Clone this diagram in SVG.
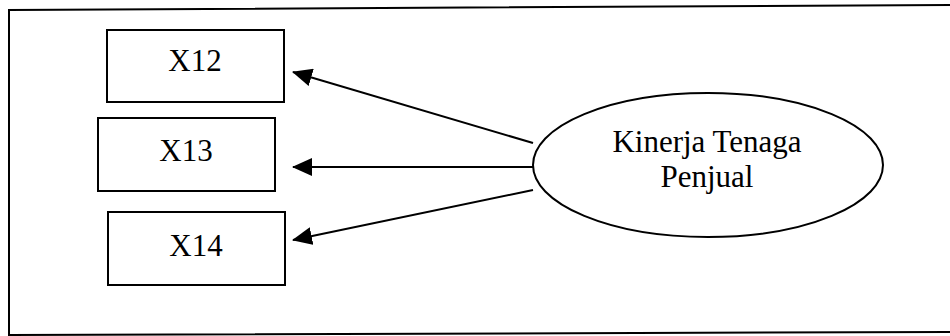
<svg xmlns="http://www.w3.org/2000/svg" width="950" height="336" viewBox="0 0 950 336">
  <style>
    .box { fill: #fff; stroke: #000; stroke-width: 2; }
    .lbl { font-family: "Liberation Serif", "Times New Roman", serif; font-size: 31px; fill: #000; text-anchor: middle; }
    .edge { stroke: #000; stroke-width: 2; fill: none; marker-end: url(#head); }
  </style>
  <defs>
    <marker id="head" viewBox="0 0 20 18" refX="19" refY="9" markerWidth="20" markerHeight="18" markerUnits="userSpaceOnUse" orient="auto">
      <path d="M0,0 L20,9 L0,18 Z" fill="#000"/>
    </marker>
  </defs>
  <rect width="950" height="336" fill="#fff"/>

  <!-- outer frame, open on the right -->
  <path d="M952,5 L9,10 L9,335 L952,332" fill="none" stroke="#000" stroke-width="2"/>

  <g id="connectors">
    <line class="edge" x1="533" y1="143" x2="293" y2="72"/>
    <line class="edge" x1="533" y1="167" x2="293" y2="167"/>
    <line class="edge" x1="533" y1="190" x2="293" y2="240"/>
  </g>

  <g id="x12">
    <rect class="box" x="107" y="30" width="177" height="72"/>
    <text class="lbl" x="195" y="71">X12</text>
  </g>
  <g id="x13">
    <rect class="box" x="98" y="118" width="177" height="73"/>
    <text class="lbl" x="186" y="161">X13</text>
  </g>
  <g id="x14">
    <rect class="box" x="108" y="212" width="177" height="73"/>
    <text class="lbl" x="196" y="256">X14</text>
  </g>

  <g id="kinerja">
    <ellipse class="box" cx="708" cy="165" rx="175" ry="72"/>
    <text class="lbl" x="707" y="152">Kinerja Tenaga</text>
    <text class="lbl" x="707" y="187">Penjual</text>
  </g>
</svg>
